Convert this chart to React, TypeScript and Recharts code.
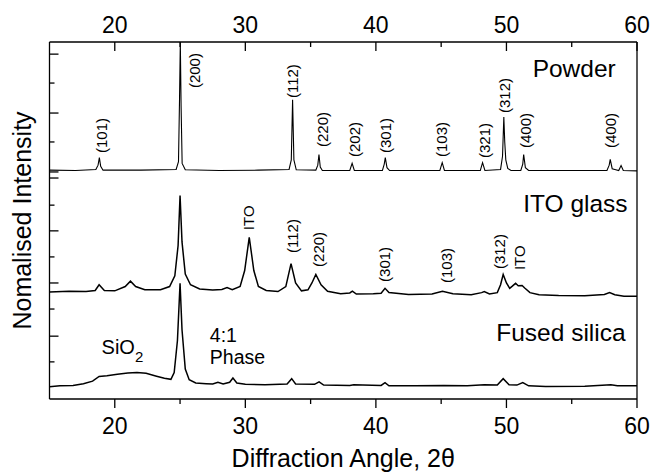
import React from "react";
import { LineChart, Line, XAxis, YAxis, ReferenceDot, Label } from "recharts";

const FONT = "'Liberation Sans', Arial, Helvetica, sans-serif";

// x ticks (degrees 2theta)
const X_TICKS = [20, 25, 30, 35, 40, 45, 50, 55, 60];
const X_MAJOR = [20, 30, 40, 50, 60];

// left axis ticks (arbitrary intensity units, no labels)
const Y_TICKS = [96.6, 88.5, 80.1, 72.0, 63.6, 61.9, 54.3, 47.1, 39.8, 32.5, 25.2, 17.6, 10.4];
const Y_MAJOR = [96.6, 80.1, 63.6, 61.9, 47.1, 32.5, 17.6];

// stacking offsets for the three patterns
const OFFSET_POWDER = 64;
const OFFSET_ITO = 30;
const OFFSET_FUSED = 3.4;

// [2theta, intensity above own baseline]
const POWDER: [number, number][] = [
  [15, 0.1], [17, 0], [18.55, 0.3], [18.72, 1.5], [18.82, 3.6], [18.92, 1.2], [19.1, 0.1],
  [22, 0.1], [24.7, 0.3], [24.88, 2.5], [24.96, 20], [25.02, 36], [25.08, 18], [25.16, 2], [25.4, 0.2],
  [28, 0], [31, 0.1], [33.35, 0.3], [33.52, 3], [33.62, 19.8], [33.72, 3], [33.9, 0.2],
  [35.4, 0.1], [35.55, 1.5], [35.64, 4.5], [35.74, 1], [35.9, 0],
  [38.0, 0], [38.18, 2], [38.35, 0],
  [40.5, 0], [40.64, 1.8], [40.72, 3.6], [40.85, 0.8], [41.05, 0],
  [44.9, 0], [45.08, 2.2], [45.25, 0],
  [48.0, 0], [48.17, 2.2], [48.35, 0],
  [49.55, 0.3], [49.7, 4], [49.8, 15], [49.87, 8], [49.95, 3], [50.1, 0.6], [50.35, 0],
  [51.1, 0], [51.25, 1.8], [51.32, 4.5], [51.45, 0.8], [51.7, 0],
  [53, 0], [57.7, 0], [57.87, 1.5], [57.95, 3.1], [58.1, 0.5], [58.3, 0.3],
  [58.6, 0], [58.78, 1.4], [58.95, 0], [60, -0.1],
];

const ITO_GLASS: [number, number][] = [
  [15, 0], [16.5, 0.2], [17.8, 0.1], [18.5, 0.4], [18.8, 2.0], [19.2, 0.4], [20, 0.3],
  [20.8, 1.5], [21.2, 3.0], [21.6, 1.5], [22.3, 0.6], [23.5, 0.6], [24.2, 1.5], [24.6, 4.5],
  [24.85, 13], [25.0, 27], [25.15, 14], [25.4, 5], [25.8, 2], [26.5, 0.8], [27.5, 0.5],
  [28.2, 0.7], [28.6, 1.2], [29.0, 0.6], [29.6, 1.5], [29.95, 6], [30.3, 15.3], [30.65, 6],
  [31.0, 1.5], [31.6, 0.4], [32.5, 0.1], [33.1, 1.5], [33.5, 7.9], [33.85, 2.5], [34.3, 0.3],
  [34.8, 0.6], [35.1, 2.5], [35.4, 4.9], [35.8, 2], [36.3, 0.2], [37.3, -0.5], [38.0, -0.3],
  [38.2, 0.2], [38.5, -0.6], [39.8, -0.5], [40.4, -0.4], [40.7, 1.0], [41.0, -0.2],
  [42.5, -0.7], [44.3, -0.6], [45.1, 0.2], [45.9, -0.5], [47.3, -0.8], [48.1, -0.2],
  [48.3, 0.1], [48.7, -0.6], [49.3, -0.2], [49.55, 2], [49.75, 4.9], [50.0, 2.5],
  [50.25, 1], [50.45, 1.6], [50.7, 2.4], [50.9, 1.7], [51.2, 1.8], [51.4, 1.1], [51.8, -0.2],
  [52.5, -0.8], [54, -1], [56, -1.1], [57.5, -0.7], [57.9, -0.2], [58.3, -0.8], [59, -1.2],
  [60, -1.2],
];

const FUSED_SILICA: [number, number][] = [
  [15, 0], [15.8, 0.3], [16.8, 0.4], [17.6, 0.9], [18.3, 1.6], [18.8, 2.9], [19.4, 3.1],
  [20.2, 3.5], [21, 3.9], [21.7, 4.0], [22.4, 3.8], [23.2, 3.0], [23.8, 2.4], [24.3, 2.1],
  [24.55, 4], [24.8, 13], [25.0, 29], [25.15, 16], [25.4, 5], [25.7, 2], [26.2, 1.1],
  [27.0, 0.9], [27.5, 0.8], [27.9, 1.3], [28.3, 0.8], [28.8, 1.3], [29.05, 2.5], [29.35, 1.1],
  [30, 0.7], [31.5, 0.6], [33.2, 0.8], [33.55, 2.3], [33.85, 0.8], [35.3, 0.7], [35.65, 1.4],
  [36.0, 0.5], [38, 0.4], [38.3, 0.6], [40.4, 0.4], [40.7, 1.2], [41, 0.3], [43, 0.3],
  [45.2, 0.4], [47, 0.3], [48.3, 0.6], [49.3, 0.5], [49.75, 2.3], [50.2, 0.6], [50.8, 0.5],
  [51.25, 1.2], [51.7, 0.3], [53, 0.1], [56, 0.2], [58, 0.6], [58.5, 0.3], [60, 0.3],
];

// rotated peak labels: [text, 2theta, bottom of text]
const PEAK_LABELS: [string, number, number][] = [
  ["(101)", 19.02, 68.9], ["(200)", 26.13, 87.1], ["(112)", 33.63, 84.3], ["(220)", 35.89, 70.6],
  ["(202)", 38.37, 67.8], ["(301)", 40.72, 68.9], ["(103)", 45.0, 67.8], ["(321)", 48.32, 67.5],
  ["(312)", 49.85, 80.1], ["(400)", 51.43, 70.3], ["(400)", 57.96, 70.3],
  ["ITO", 30.21, 47.3], ["(112)", 33.65, 40.9], ["(220)", 35.57, 37.0], ["(301)", 40.67, 32.8],
  ["(103)", 45.39, 32.5], ["(312)", 49.47, 36.4], ["ITO", 51.0, 36.1],
];

// sample names, right aligned: [text, 2theta end, centre]
const SAMPLE_LABELS: [string, number, number][] = [
  ["Powder", 58.37, 92.7],
  ["ITO glass", 59.28, 54.9],
  ["Fused silica", 59.13, 18.5],
];

const toRows = (pts: [number, number][], off: number) => pts.map(([x, y]) => ({ x, y: y + off }));

const BottomTick = (props: any) => {
  const { x, y, payload } = props;
  const major = X_MAJOR.includes(payload.value);
  return (
    <g>
      <line x1={x} x2={x} y1={y} y2={y + (major ? 9 : 5)} stroke="#000" strokeWidth={1.3} />
      {major && (
        <text x={x} y={y + 27} textAnchor="middle" dominantBaseline="central" fontSize={23} fontFamily={FONT} fill="#000">
          {payload.value}
        </text>
      )}
    </g>
  );
};

const TopTick = (props: any) => {
  const { x, y, payload } = props;
  const major = X_MAJOR.includes(payload.value);
  return (
    <g>
      <line x1={x} x2={x} y1={y} y2={y + (major ? 9 : 5)} stroke="#000" strokeWidth={1.3} />
      {major && (
        <text x={x} y={y - 17} textAnchor="middle" dominantBaseline="central" fontSize={23} fontFamily={FONT} fill="#000">
          {payload.value}
        </text>
      )}
    </g>
  );
};

const LeftTick = (props: any) => {
  const { x, y, payload } = props;
  const major = Y_MAJOR.includes(payload.value);
  return <line x1={x} x2={x + (major ? 9 : 5)} y1={y} y2={y} stroke="#000" strokeWidth={1.3} />;
};

const YTitle = (props: any) => {
  const vb = props.viewBox || {};
  const cy = (vb.y ?? 42) + (vb.height ?? 357) / 2;
  const cx = 22;
  return (
    <text x={cx} y={cy} transform={`rotate(-90, ${cx}, ${cy})`} textAnchor="middle" dominantBaseline="central"
      fontSize={25} fontFamily={FONT} fill="#000">
      Nomalised Intensity
    </text>
  );
};

export default function App() {
  const axisLine = { stroke: "#000", strokeWidth: 1.3 };
  return (
    <div style={{ position: "absolute", left: 0, top: 0, background: "#fff" }}>
      <LineChart width={653} height={476} margin={{ top: 2, right: 0, bottom: 0, left: 0 }}>
        <XAxis xAxisId="b" type="number" dataKey="x" domain={[15, 60]} ticks={X_TICKS} interval={0}
          tickSize={0} tickMargin={0} tick={<BottomTick />} height={77} axisLine={axisLine} allowDataOverflow>
          <Label value="Diffraction Angle, 2θ" position="insideBottom" offset={9}
            style={{ fontSize: 25, fontFamily: FONT, fill: "#000" }} />
        </XAxis>
        <XAxis xAxisId="t" orientation="top" type="number" dataKey="x" domain={[15, 60]} ticks={X_TICKS}
          interval={0} tickSize={0} tickMargin={0} tick={<TopTick />} height={40} axisLine={axisLine} allowDataOverflow />
        <YAxis yAxisId="l" type="number" domain={[0, 100]} ticks={Y_TICKS} interval={0} tickSize={0}
          tickMargin={0} tick={<LeftTick />} width={49.5} axisLine={axisLine} allowDataOverflow>
          <Label content={<YTitle />} />
        </YAxis>
        <YAxis yAxisId="r" orientation="right" type="number" domain={[0, 100]} tick={false} tickLine={false}
          width={16} axisLine={axisLine} allowDataOverflow />

        <Line xAxisId="b" yAxisId="l" data={toRows(POWDER, OFFSET_POWDER)} dataKey="y" type="linear"
          stroke="#000" strokeWidth={1.1} dot={false} isAnimationActive={false} />
        <Line xAxisId="b" yAxisId="l" data={toRows(ITO_GLASS, OFFSET_ITO)} dataKey="y" type="linear"
          stroke="#000" strokeWidth={1.5} dot={false} isAnimationActive={false} />
        <Line xAxisId="b" yAxisId="l" data={toRows(FUSED_SILICA, OFFSET_FUSED)} dataKey="y" type="linear"
          stroke="#000" strokeWidth={1.5} dot={false} isAnimationActive={false} />

        {PEAK_LABELS.map(([t, x, y], i) => (
          <ReferenceDot key={"p" + i} xAxisId="b" yAxisId="l" x={x} y={y} r={0} ifOverflow="visible"
            shape={(p: any) => (
              <text x={p.cx} y={p.cy} transform={`rotate(-90, ${p.cx}, ${p.cy})`} textAnchor="start"
                dominantBaseline="central" fontSize={15} fontFamily={FONT} fill="#000">
                {t}
              </text>
            )} />
        ))}
        {SAMPLE_LABELS.map(([t, x, y], i) => (
          <ReferenceDot key={"s" + i} xAxisId="b" yAxisId="l" x={x} y={y} r={0} ifOverflow="visible"
            shape={(p: any) => (
              <text x={p.cx} y={p.cy} textAnchor="end" dominantBaseline="central" fontSize={24.5}
                fontFamily={FONT} fill="#000">
                {t}
              </text>
            )} />
        ))}
        <ReferenceDot xAxisId="b" yAxisId="l" x={18.99} y={14.6} r={0} ifOverflow="visible"
          shape={(p: any) => (
            <text x={p.cx} y={p.cy} textAnchor="start" dominantBaseline="central" fontSize={20}
              fontFamily={FONT} fill="#000">
              SiO<tspan fontSize={15} dy={9}>2</tspan>
            </text>
          )} />
        <ReferenceDot xAxisId="b" yAxisId="l" x={27.28} y={17.9} r={0} ifOverflow="visible"
          shape={(p: any) => (
            <text x={p.cx} y={p.cy} textAnchor="start" dominantBaseline="central" fontSize={19.5}
              fontFamily={FONT} fill="#000">
              4:1
            </text>
          )} />
        <ReferenceDot xAxisId="b" yAxisId="l" x={27.28} y={11.8} r={0} ifOverflow="visible"
          shape={(p: any) => (
            <text x={p.cx} y={p.cy} textAnchor="start" dominantBaseline="central" fontSize={19.5}
              fontFamily={FONT} fill="#000">
              Phase
            </text>
          )} />
      </LineChart>
    </div>
  );
}
